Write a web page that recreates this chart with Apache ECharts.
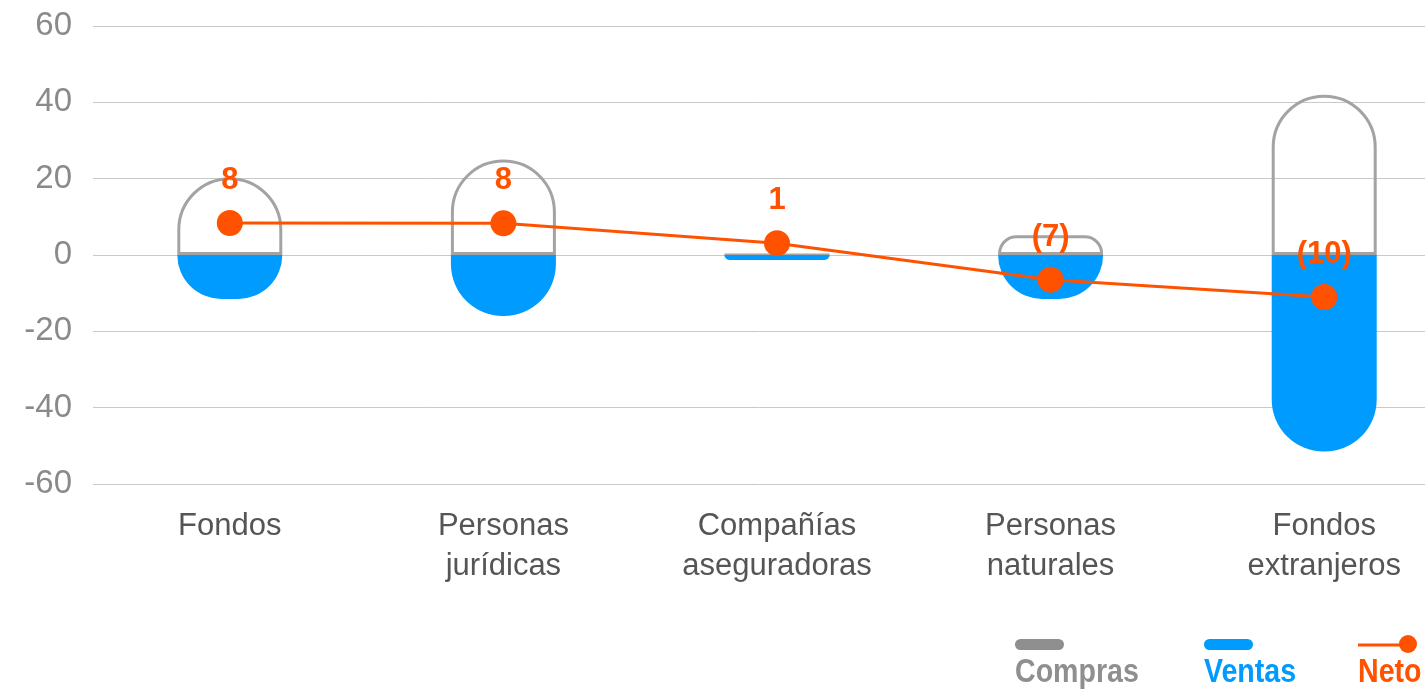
<!DOCTYPE html>
<html>
<head>
<meta charset="utf-8">
<script src="https://cdn.jsdelivr.net/npm/echarts@6/dist/echarts.min.js"></script>
<style>
  html, body { margin: 0; padding: 0; background: #fff; }
  #chart { width: 1425px; height: 692px; }
</style>
</head>
<body>
<div id="chart"></div>
<script>
// datos
var categorias = ['Fondos', 'Personas\njurídicas', 'Compañías\naseguradoras', 'Personas\nnaturales', 'Fondos\nextranjeros'];
var compras = [20.4, 25, 0, 5.2, 42];
var ventas = [-11.5, -16, -1.3, -11.5, -51.5];
var neto = [8.4, 8.3, 3.1, -6.5, -11];
var netoEtiquetas = ['8', '8', '1', '(7)', '(10)'];
var yTicks = [-60, -40, -20, 0, 20, 40, 60];

var gris = '#a3a3a3';
var azul = '#009bff';
var naranja = '#ff5200';
var fuenteLeyenda = 'bold 34px "Liberation Sans", Arial';

var chart = echarts.init(document.getElementById('chart'));

var option = {
    animation: false,
    grid: {
        left: 93,
        top: 26,
        right: -36,
        bottom: 208,
        containLabel: false,
        outerBoundsMode: 'none'
    },
    xAxis: {
        type: 'category',
        data: categorias,
        axisLine: { show: false },
        axisTick: { show: false },
        axisLabel: {
            margin: 22,
            color: '#555',
            fontFamily: 'Liberation Sans, Helvetica, Arial',
            fontSize: 31,
            lineHeight: 40
        }
    },
    yAxis: {
        type: 'value',
        min: yTicks[0],
        max: yTicks[yTicks.length - 1],
        interval: 20,
        axisLine: { show: false },
        axisTick: { show: false },
        axisLabel: {
            margin: 21,
            color: '#8a8a8a',
            fontFamily: 'Liberation Sans, Helvetica, Arial',
            fontSize: 33
        },
        splitLine: { lineStyle: { color: '#c9c9c9', width: 1 } }
    },
    series: [
        {
            name: 'Compras',
            type: 'bar',
            data: compras,
            barWidth: 105,
            barGap: '-100%',
            itemStyle: {
                color: 'rgba(255,255,255,0)',
                borderColor: gris,
                borderWidth: 3,
                borderRadius: [52, 52, 0, 0]
            },
            z: 2
        },
        {
            name: 'Ventas',
            type: 'bar',
            data: ventas,
            barWidth: 105,
            barGap: '-100%',
            itemStyle: {
                color: azul,
                borderRadius: [0, 0, 52, 52]
            },
            z: 3
        },
        {
            name: 'Neto',
            type: 'line',
            data: neto,
            symbol: 'circle',
            symbolSize: 26,
            lineStyle: { color: naranja, width: 3 },
            itemStyle: { color: naranja },
            label: {
                show: true,
                position: 'top',
                distance: 14,
                color: naranja,
                fontWeight: 'bold',
                fontSize: 31,
                fontFamily: 'Liberation Sans, Arial',
                formatter: function (p) { return netoEtiquetas[p.dataIndex]; }
            },
            z: 5
        }
    ],
    graphic: [
        // leyenda hecha a mano: icono arriba, texto abajo
        { type: 'rect', left: 1015, top: 639, shape: { width: 49, height: 11, r: 5.5 }, style: { fill: '#8f8f8f' } },
        { type: 'text', x: 1015, y: 656, scaleX: 0.84, style: { text: 'Compras', fill: '#8f8f8f', font: fuenteLeyenda } },
        { type: 'rect', left: 1204, top: 639, shape: { width: 49, height: 11, r: 5.5 }, style: { fill: azul } },
        { type: 'text', x: 1204, y: 656, scaleX: 0.84, style: { text: 'Ventas', fill: azul, font: fuenteLeyenda } },
        { type: 'line', shape: { x1: 1358, y1: 645, x2: 1404, y2: 645 }, style: { stroke: naranja, lineWidth: 3 } },
        { type: 'circle', shape: { cx: 1408, cy: 644, r: 9 }, style: { fill: naranja } },
        { type: 'text', x: 1358, y: 656, scaleX: 0.84, style: { text: 'Neto', fill: naranja, font: fuenteLeyenda } }
    ]
};

chart.setOption(option);
</script>
</body>
</html>
